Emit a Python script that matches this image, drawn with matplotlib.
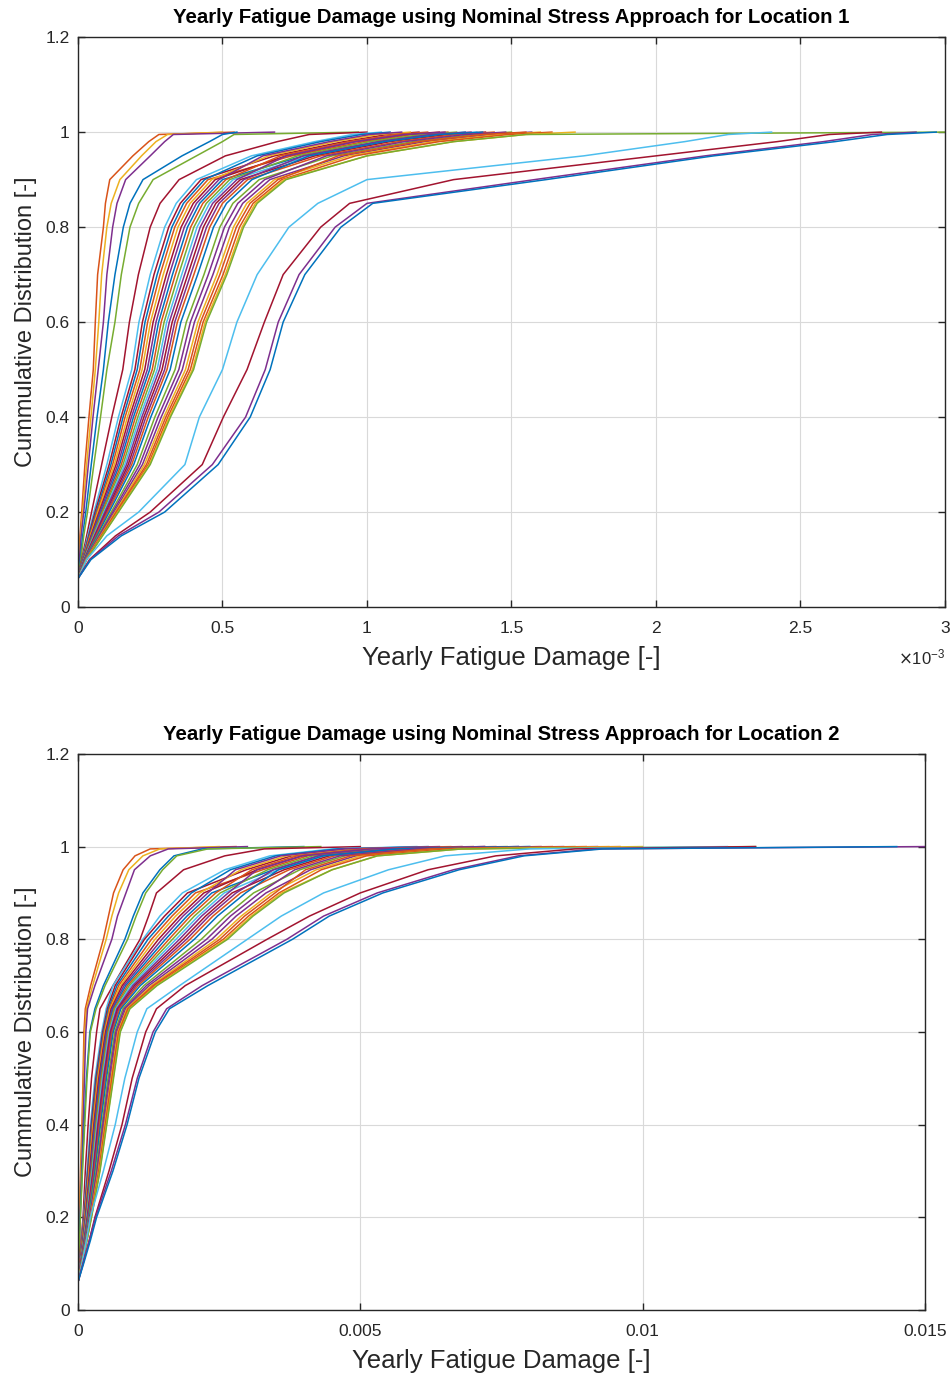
import numpy as np
import matplotlib.pyplot as plt
from matplotlib.ticker import FuncFormatter

plt.rcParams['font.family'] = ['Liberation Sans', 'DejaVu Sans']

# MATLAB default colour order
BLUE, ORANGE, YELLOW, PURPLE = '#0072BD', '#D95319', '#EDB120', '#7E2F8E'
GREEN, LBLUE, RED = '#77AC30', '#4DBEEE', '#A2142F'

# cumulative probability levels where the damage quantiles are taken
p_loc1 = [0.10, 0.15, 0.20, 0.30, 0.40, 0.50, 0.60, 0.70, 0.80, 0.85, 0.90, 0.95, 0.98, 0.995, 1.0]
p_loc2 = [0.10, 0.15, 0.20, 0.30, 0.40, 0.50, 0.60, 0.65, 0.70, 0.80, 0.85, 0.90, 0.95, 0.98, 0.995, 1.0]

# ---------------- Location 1 : yearly damage quantiles [x 1e-3] ----------------
loc1_fast = [
    [0.003, 0.007, 0.013, 0.024, 0.038, 0.053, 0.060, 0.068, 0.088, 0.095, 0.110, 0.19, 0.245, 0.28, 0.54],
    [0.004, 0.009, 0.016, 0.030, 0.045, 0.060, 0.072, 0.082, 0.100, 0.115, 0.145, 0.22, 0.27, 0.31, 0.50],
    [0.005, 0.011, 0.020, 0.036, 0.052, 0.070, 0.088, 0.100, 0.120, 0.135, 0.165, 0.25, 0.30, 0.33, 0.68],
    [0.008, 0.016, 0.027, 0.046, 0.066, 0.088, 0.105, 0.128, 0.157, 0.180, 0.225, 0.36, 0.455, 0.50, 0.55],
    [0.010, 0.020, 0.033, 0.055, 0.078, 0.100, 0.128, 0.150, 0.180, 0.210, 0.260, 0.41, 0.50, 0.54, 0.97],
]
loc1_fast_colors = [ORANGE, YELLOW, PURPLE, BLUE, GREEN]

loc1_mid = [
    [0.013, 0.030, 0.047, 0.082, 0.117, 0.155, 0.178, 0.209, 0.250, 0.284, 0.350, 0.51, 0.69, 0.80, 1.00],
    [0.015, 0.034, 0.055, 0.100, 0.140, 0.186, 0.211, 0.250, 0.300, 0.340, 0.410, 0.60, 0.82, 0.95, 1.05],
]
loc1_mid_colors = [RED, LBLUE]

loc1_bulk = [
    [0.016, 0.037, 0.059, 0.108, 0.149, 0.197, 0.223, 0.263, 0.314, 0.354, 0.426, 0.68, 0.92, 1.07, 1.18],
    [0.016, 0.039, 0.063, 0.114, 0.156, 0.205, 0.232, 0.274, 0.325, 0.365, 0.438, 0.62, 0.84, 0.98, 1.08],
    [0.017, 0.041, 0.066, 0.120, 0.163, 0.214, 0.241, 0.284, 0.335, 0.376, 0.450, 0.74, 0.99, 1.16, 1.28],
    [0.018, 0.043, 0.069, 0.126, 0.171, 0.222, 0.251, 0.295, 0.346, 0.388, 0.463, 0.66, 0.89, 1.04, 1.15],
    [0.018, 0.045, 0.073, 0.132, 0.178, 0.231, 0.260, 0.306, 0.357, 0.399, 0.475, 0.72, 0.96, 1.13, 1.25],
    [0.019, 0.047, 0.076, 0.138, 0.185, 0.240, 0.270, 0.316, 0.368, 0.410, 0.488, 0.64, 0.87, 1.01, 1.12],
    [0.019, 0.049, 0.080, 0.144, 0.192, 0.248, 0.279, 0.327, 0.379, 0.421, 0.500, 0.78, 1.04, 1.22, 1.34],
    [0.020, 0.051, 0.083, 0.150, 0.199, 0.257, 0.288, 0.337, 0.390, 0.432, 0.512, 0.70, 0.94, 1.10, 1.21],
    [0.021, 0.053, 0.086, 0.156, 0.207, 0.265, 0.298, 0.348, 0.401, 0.444, 0.525, 0.76, 1.01, 1.19, 1.31],
    [0.021, 0.055, 0.090, 0.162, 0.214, 0.274, 0.307, 0.359, 0.412, 0.455, 0.537, 0.80, 1.06, 1.25, 1.38],
    [0.022, 0.057, 0.093, 0.168, 0.221, 0.282, 0.316, 0.369, 0.423, 0.466, 0.550, 0.72, 0.96, 1.13, 1.27],
    [0.022, 0.059, 0.097, 0.174, 0.228, 0.291, 0.326, 0.380, 0.434, 0.477, 0.562, 0.82, 1.08, 1.28, 1.41],
    [0.023, 0.061, 0.100, 0.180, 0.235, 0.300, 0.335, 0.390, 0.445, 0.488, 0.574, 0.78, 1.04, 1.22, 1.36],
    [0.024, 0.063, 0.103, 0.186, 0.243, 0.308, 0.344, 0.401, 0.456, 0.500, 0.587, 0.84, 1.11, 1.31, 1.44],
    [0.024, 0.066, 0.108, 0.193, 0.252, 0.319, 0.356, 0.414, 0.469, 0.514, 0.602, 0.80, 1.06, 1.25, 1.40],
    [0.026, 0.070, 0.115, 0.205, 0.266, 0.336, 0.375, 0.436, 0.491, 0.536, 0.627, 0.88, 1.16, 1.37, 1.50],
    [0.026, 0.073, 0.120, 0.214, 0.277, 0.349, 0.389, 0.451, 0.507, 0.553, 0.646, 0.86, 1.13, 1.34, 1.48],
    [0.027, 0.076, 0.125, 0.223, 0.288, 0.361, 0.403, 0.467, 0.524, 0.570, 0.664, 0.92, 1.20, 1.43, 1.57],
    [0.028, 0.078, 0.129, 0.230, 0.297, 0.372, 0.415, 0.481, 0.538, 0.584, 0.680, 0.94, 1.23, 1.46, 1.60],
    [0.029, 0.080, 0.132, 0.237, 0.304, 0.381, 0.424, 0.491, 0.548, 0.595, 0.692, 0.90, 1.18, 1.40, 1.55],
    [0.029, 0.082, 0.136, 0.243, 0.311, 0.389, 0.433, 0.502, 0.559, 0.606, 0.705, 0.96, 1.25, 1.49, 1.64],
    [0.030, 0.084, 0.138, 0.247, 0.316, 0.396, 0.440, 0.510, 0.568, 0.614, 0.714, 1.00, 1.30, 1.55, 1.72],
    [0.030, 0.085, 0.140, 0.250, 0.320, 0.400, 0.445, 0.515, 0.573, 0.620, 0.720, 1.00, 1.30, 1.55, 3.00],
]
bulk_colors = [RED, BLUE, ORANGE, YELLOW, RED, PURPLE, BLUE, ORANGE, GREEN, LBLUE, PURPLE, RED,
               PURPLE, ORANGE, BLUE, GREEN, PURPLE, PURPLE, YELLOW, ORANGE, ORANGE, YELLOW, GREEN]

loc1_slow = [
    [0.030, 0.100, 0.210, 0.370, 0.420, 0.500, 0.550, 0.620, 0.730, 0.830, 1.000, 1.75, 2.10, 2.25, 2.40],
    [0.040, 0.130, 0.250, 0.430, 0.503, 0.585, 0.645, 0.710, 0.840, 0.940, 1.300, 2.00, 2.42, 2.60, 2.78],
    [0.042, 0.140, 0.280, 0.465, 0.580, 0.648, 0.693, 0.765, 0.890, 1.000, 1.580, 2.17, 2.58, 2.75, 2.90],
    [0.045, 0.150, 0.300, 0.485, 0.596, 0.665, 0.710, 0.785, 0.910, 1.020, 1.620, 2.20, 2.62, 2.80, 2.97],
]
slow_colors = [LBLUE, RED, PURPLE, BLUE]

# ---------------- Location 2 : yearly damage quantiles [x 1e-3] ----------------
loc2_fast = [
    [0.006, 0.015, 0.025, 0.045, 0.070, 0.090, 0.106, 0.130, 0.225, 0.45, 0.54, 0.63, 0.80, 1.01, 1.28, 2.8],
    [0.008, 0.018, 0.030, 0.055, 0.080, 0.100, 0.120, 0.150, 0.260, 0.50, 0.60, 0.72, 0.90, 1.15, 1.45, 2.5],
    [0.010, 0.022, 0.035, 0.065, 0.090, 0.115, 0.140, 0.170, 0.300, 0.60, 0.70, 0.85, 1.00, 1.28, 1.60, 3.0],
    [0.012, 0.026, 0.040, 0.075, 0.110, 0.150, 0.210, 0.300, 0.450, 0.83, 0.98, 1.15, 1.45, 1.70, 2.20, 4.0],
    [0.013, 0.028, 0.043, 0.080, 0.120, 0.160, 0.220, 0.320, 0.480, 0.88, 1.03, 1.20, 1.50, 1.75, 2.30, 4.3],
]

loc2_mid = [
    [0.025, 0.055, 0.090, 0.130, 0.180, 0.240, 0.330, 0.390, 0.620, 1.10, 1.25, 1.39, 1.87, 2.60, 3.30, 5.0],
    [0.030, 0.065, 0.100, 0.160, 0.220, 0.300, 0.420, 0.500, 0.620, 1.15, 1.45, 1.85, 2.60, 3.40, 4.50, 6.0],
]

loc2_bulk = [
    [0.032, 0.070, 0.107, 0.172, 0.235, 0.317, 0.437, 0.521, 0.659, 1.178, 1.533, 1.94, 2.98, 3.78, 4.96, 6.8],
    [0.034, 0.074, 0.113, 0.181, 0.246, 0.330, 0.450, 0.538, 0.690, 1.240, 1.600, 2.01, 2.70, 3.50, 4.60, 6.2],
    [0.035, 0.077, 0.118, 0.190, 0.258, 0.343, 0.463, 0.555, 0.721, 1.302, 1.665, 2.08, 3.27, 4.07, 5.30, 7.4],
    [0.037, 0.081, 0.124, 0.199, 0.269, 0.356, 0.476, 0.571, 0.753, 1.364, 1.730, 2.16, 2.89, 3.69, 4.85, 6.6],
    [0.038, 0.085, 0.129, 0.208, 0.281, 0.369, 0.489, 0.588, 0.784, 1.426, 1.800, 2.23, 3.17, 3.97, 5.19, 7.2],
    [0.040, 0.089, 0.135, 0.218, 0.293, 0.383, 0.503, 0.605, 0.815, 1.488, 1.860, 2.30, 2.79, 3.59, 4.73, 6.4],
    [0.042, 0.093, 0.141, 0.227, 0.304, 0.396, 0.516, 0.622, 0.846, 1.550, 1.930, 2.37, 3.46, 4.26, 5.54, 7.8],
    [0.043, 0.096, 0.146, 0.236, 0.316, 0.409, 0.529, 0.639, 0.877, 1.612, 1.990, 2.44, 3.08, 3.88, 5.08, 7.0],
    [0.045, 0.100, 0.152, 0.245, 0.327, 0.422, 0.542, 0.655, 0.909, 1.674, 2.060, 2.52, 3.36, 4.16, 5.42, 7.6],
    [0.046, 0.104, 0.157, 0.254, 0.339, 0.435, 0.555, 0.672, 0.940, 1.736, 2.130, 2.59, 3.55, 4.35, 5.65, 8.0],
    [0.048, 0.108, 0.163, 0.264, 0.351, 0.449, 0.569, 0.689, 0.971, 1.798, 2.190, 2.66, 3.17, 3.97, 5.19, 7.2],
    [0.050, 0.112, 0.169, 0.273, 0.362, 0.462, 0.582, 0.706, 1.002, 1.860, 2.260, 2.73, 3.65, 4.45, 5.77, 8.2],
    [0.051, 0.115, 0.174, 0.282, 0.374, 0.475, 0.595, 0.723, 1.033, 1.922, 2.320, 2.80, 3.46, 4.26, 5.54, 7.8],
    [0.053, 0.119, 0.180, 0.291, 0.385, 0.488, 0.608, 0.739, 1.065, 1.984, 2.390, 2.88, 3.74, 4.54, 5.88, 8.4],
    [0.055, 0.124, 0.187, 0.303, 0.400, 0.505, 0.625, 0.760, 1.104, 2.061, 2.470, 2.97, 3.55, 4.35, 5.65, 8.0],
    [0.058, 0.132, 0.198, 0.321, 0.423, 0.531, 0.651, 0.794, 1.166, 2.185, 2.610, 3.11, 3.93, 4.73, 6.11, 8.8],
    [0.060, 0.137, 0.206, 0.335, 0.440, 0.551, 0.671, 0.819, 1.213, 2.278, 2.700, 3.22, 3.84, 4.64, 6.00, 8.6],
    [0.063, 0.143, 0.215, 0.349, 0.458, 0.571, 0.691, 0.844, 1.260, 2.371, 2.800, 3.33, 4.12, 4.92, 6.34, 9.2],
    [0.065, 0.148, 0.222, 0.360, 0.472, 0.587, 0.707, 0.865, 1.299, 2.449, 2.890, 3.42, 4.22, 5.02, 6.46, 9.4],
    [0.066, 0.151, 0.227, 0.369, 0.484, 0.600, 0.720, 0.882, 1.330, 2.511, 2.950, 3.49, 4.03, 4.83, 6.23, 9.0],
    [0.068, 0.155, 0.233, 0.379, 0.496, 0.614, 0.734, 0.899, 1.361, 2.573, 3.020, 3.56, 4.31, 5.11, 6.57, 9.6],
    [0.069, 0.158, 0.237, 0.385, 0.504, 0.623, 0.743, 0.912, 1.384, 2.619, 3.070, 3.61, 4.50, 5.30, 6.80, 10.0],
    [0.070, 0.160, 0.240, 0.390, 0.510, 0.630, 0.750, 0.920, 1.400, 2.650, 3.100, 3.65, 4.50, 5.30, 6.80, 12.0],
]

loc2_slow = [
    [0.070, 0.150, 0.220, 0.450, 0.660, 0.830, 1.050, 1.220, 1.800, 3.00, 3.60, 4.35, 5.50, 6.50, 8.00, 11.5],
    [0.090, 0.200, 0.300, 0.550, 0.780, 0.960, 1.200, 1.390, 1.900, 3.35, 4.10, 5.00, 6.20, 7.40, 8.80, 12.0],
    [0.090, 0.200, 0.310, 0.590, 0.840, 1.050, 1.330, 1.570, 2.200, 3.70, 4.35, 5.30, 6.65, 7.80, 9.20, 15.0],
    [0.100, 0.220, 0.330, 0.620, 0.870, 1.080, 1.370, 1.620, 2.300, 3.80, 4.45, 5.40, 6.75, 7.90, 9.30, 14.5],
]

TXT = '#262626'


def draw_curves(ax, levels, rows, colors):
    # every ecdf starts with a jump at zero damage
    y = np.r_[0.0, 0.06, levels]
    for row, c in zip(rows, colors):
        x = np.r_[0.0, 0.0, row] * 1e-3
        ax.plot(x, y, color=c, linewidth=1.1)


def style_axes(ax, title):
    ax.set_ylim(0, 1.2)
    ax.set_yticks(np.arange(0, 1.21, 0.2))
    ax.yaxis.set_major_formatter(FuncFormatter(lambda v, pos: f'{v:g}'))
    ax.grid(True, color='#d9d9d9', linewidth=0.8)
    ax.set_axisbelow(True)
    ax.tick_params(direction='in', length=5, width=1, colors=TXT, labelsize=12.5,
                   top=True, right=True)
    ax.tick_params(axis='x', pad=10)
    ax.tick_params(axis='y', pad=6)
    for s in ax.spines.values():
        s.set_color(TXT)
        s.set_linewidth(1.0)
    ax.set_title(title, fontsize=14.7, fontweight='bold', pad=10)
    ax.set_ylabel('Cummulative Distribution [-]', fontsize=17, color=TXT, labelpad=6)
    ax.set_xlabel('Yearly Fatigue Damage [-]', fontsize=18.5, color=TXT, labelpad=7)


fig = plt.figure(figsize=(9.52, 13.75), dpi=100)

# Location 1
ax1 = fig.add_axes([0.0819, 0.5585, 0.9107, 0.4145])
draw_curves(ax1, p_loc1, loc1_fast, loc1_fast_colors)
draw_curves(ax1, p_loc1, loc1_mid, loc1_mid_colors)
draw_curves(ax1, p_loc1, loc1_bulk, bulk_colors)
draw_curves(ax1, p_loc1, loc1_slow, slow_colors)
ax1.set_xlim(0, 3e-3)
ax1.set_xticks(np.arange(0, 3.01e-3, 0.5e-3))
ax1.xaxis.set_major_formatter(FuncFormatter(lambda v, pos: f'{v * 1e3:g}'))
style_axes(ax1, 'Yearly Fatigue Damage using Nominal Stress Approach for Location 1')
ax1.text(1.0, -0.088, r'$\times\mathregular{10^{-3}}$', transform=ax1.transAxes,
         ha='right', va='center', fontsize=12, color=TXT)

# Location 2
ax2 = fig.add_axes([0.0819, 0.0473, 0.8897, 0.4044])
draw_curves(ax2, p_loc2, loc2_fast, loc1_fast_colors)
draw_curves(ax2, p_loc2, loc2_mid, loc1_mid_colors)
draw_curves(ax2, p_loc2, loc2_bulk, bulk_colors)
draw_curves(ax2, p_loc2, loc2_slow, slow_colors)
ax2.set_xlim(0, 0.015)
ax2.set_xticks([0, 0.005, 0.01, 0.015])
ax2.xaxis.set_major_formatter(FuncFormatter(lambda v, pos: f'{v:g}'))
style_axes(ax2, 'Yearly Fatigue Damage using Nominal Stress Approach for Location 2')

fig.savefig('out.png', dpi=100)
